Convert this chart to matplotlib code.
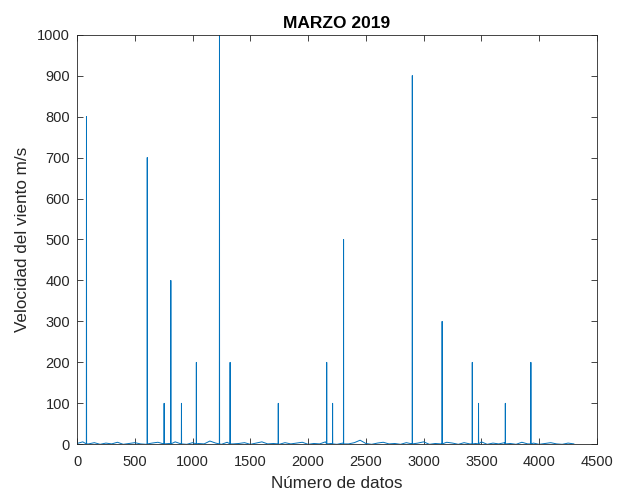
import matplotlib
matplotlib.use('agg')
import matplotlib.pyplot as plt
import numpy as np

# spikes: sample index and wind speed (m/s)
spike_idx = [82, 608, 754, 812, 904, 1033, 1233, 1324, 1325, 1326, 1742,
             2161, 2212, 2307, 2902, 3160, 3421, 3475, 3707, 3928]
spike_val = [800, 700, 100, 400, 100, 200, 1000, 100, 200, 100, 100,
             200, 100, 500, 900, 300, 200, 100, 100, 200]

# baseline readings, one every base_step samples
base_step = 50
base_val = [2, 6, 1, 4, 0, 3, 1, 5, 0, 2,
            4, 1, 0, 3, 5, 1, 2, 6, 1, 0,
            4, 2, 1, 8, 3, 0, 5, 1, 2, 4,
            0, 3, 6, 1, 2, 0, 4, 1, 3, 5,
            0, 2, 1, 6, 2, 0, 3, 1, 4, 10,
            2, 0, 3, 5, 1, 2, 0, 4, 1, 3,
            6, 0, 2, 1, 5, 3, 0, 4, 1, 2,
            6, 0, 3, 1, 4, 2, 0, 5, 1, 3,
            0, 2, 4, 1, 0, 3, 1]

xticks = [0, 500, 1000, 1500, 2000, 2500, 3000, 3500, 4000, 4500]
yticks = [0, 100, 200, 300, 400, 500, 600, 700, 800, 900, 1000]

points = {i * base_step: v for i, v in enumerate(base_val)}
for i, v in zip(spike_idx, spike_val):
    points.setdefault(i - 1, 1)
    points.setdefault(i + 1, 1)
for i, v in zip(spike_idx, spike_val):
    points[i] = v
xs = sorted(points)
ys = [points[k] for k in xs]

plt.rcParams['font.family'] = ['Liberation Sans', 'DejaVu Sans']
plt.rcParams['path.simplify'] = False

fig = plt.figure(figsize=(6.19, 4.95), dpi=100)
ax = fig.add_axes([0.1244, 0.1024, 0.840, 0.8276])
ax.plot(xs, ys, color='#0072BD', linewidth=0.7, snap=False)

ax.set_xlim(0, 4500)
ax.set_ylim(0, 1000)
ax.set_xticks(xticks)
ax.set_yticks(yticks)
ax.tick_params(direction='in', top=True, right=True, length=4,
               width=0.6, labelsize=10.5, colors='#262626')
ax.tick_params(axis='x', pad=8)
ax.tick_params(axis='y', pad=5)
for s in ax.spines.values():
    s.set_color('#262626')
    s.set_linewidth(0.6)

ax.set_title('MARZO 2019', fontsize=12.5, fontweight='bold', pad=5)
ax.set_xlabel('Número de datos', fontsize=12.3, color='#262626', labelpad=5)
ax.set_ylabel('Velocidad del viento m/s', fontsize=12.3, color='#262626', labelpad=5)

fig.savefig('out.png', dpi=100)
